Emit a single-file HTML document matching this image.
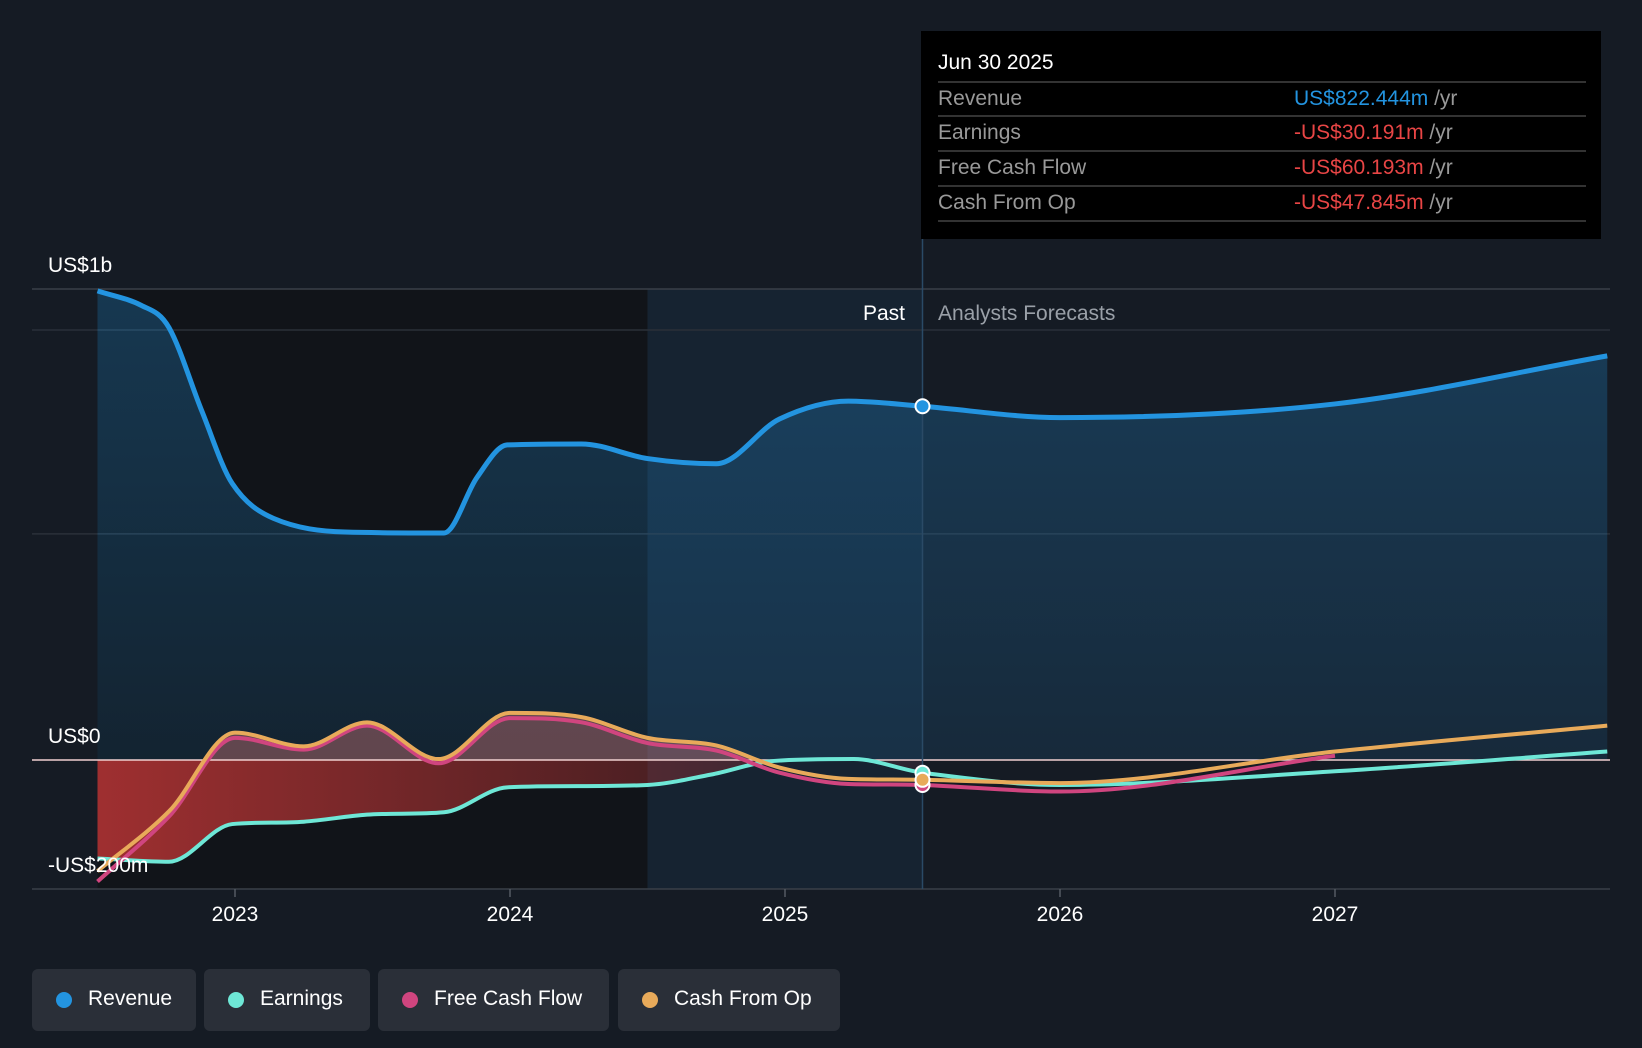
<!DOCTYPE html>
<html><head><meta charset="utf-8"><style>
body{margin:0;background:#151b24;font-family:"Liberation Sans",sans-serif;}
#wrap{position:relative;width:1642px;height:1048px;overflow:hidden;background:#151b24}
svg{position:absolute;left:0;top:0}
.tt{position:absolute;left:921px;top:31px;width:680px;height:208px;background:#000;}
.tt .h{position:absolute;left:17px;top:20px;color:#fff;font-size:21px}
.row{position:absolute;left:17px;width:648px;height:34px;border-top:2px solid #333;font-size:21px;color:#999}
.row span.v{position:absolute;left:356px;top:4px}
.row span.l{position:absolute;left:0;top:4px}
.leg{position:absolute;top:969px;height:62px;background:#2a2f38;border-radius:6px;color:#fff;font-size:21px;}
.leg i{position:absolute;left:24px;top:23px;width:16px;height:16px;border-radius:50%}
.leg b{font-weight:normal;position:absolute;left:56px;top:18px}
</style></head><body>
<div id="wrap">
<svg id="chart" width="1642" height="1048"></svg>
<div class="tt">
 <div class="h">Jun 30 2025</div>
 <div class="row" style="top:50px"><span class="l">Revenue</span><span class="v"><span style="color:#2394e0">US$822.444m</span> /yr</span></div>
 <div class="row" style="top:84px"><span class="l">Earnings</span><span class="v"><span style="color:#e84545">-US$30.191m</span> /yr</span></div>
 <div class="row" style="top:119px"><span class="l">Free Cash Flow</span><span class="v"><span style="color:#e84545">-US$60.193m</span> /yr</span></div>
 <div class="row" style="top:154px"><span class="l">Cash From Op</span><span class="v"><span style="color:#e84545">-US$47.845m</span> /yr</span></div>
 <div class="row" style="top:189px;height:0"></div>
</div>
<div class="leg" style="left:32px;width:164px"><i style="background:#2394e0"></i><b>Revenue</b></div>
<div class="leg" style="left:204px;width:166px"><i style="background:#6ee7d6"></i><b>Earnings</b></div>
<div class="leg" style="left:378px;width:231px"><i style="background:#d0457f"></i><b>Free Cash Flow</b></div>
<div class="leg" style="left:618px;width:222px"><i style="background:#e8aa5a"></i><b>Cash From Op</b></div>
</div>
<script>
const revT=[2022.5,2022.66,2022.76,2022.88,2022.99,2023.14,2023.4,2023.76,2023.88,2023.99,2024.26,2024.5,2024.75,2024.98,2025.23,2025.5,2026,2027,2027.99];
const revV=[0.996,0.965,0.918,0.74,0.587,0.513,0.484,0.482,0.6,0.669,0.671,0.64,0.629,0.724,0.762,0.751,0.727,0.756,0.858];
const earnT=[2022.5,2022.76,2022.99,2023.25,2023.48,2023.76,2023.99,2024.5,2024.73,2024.96,2025.25,2025.5,2026,2027,2027.99];
const earnV=[-0.209,-0.216,-0.136,-0.131,-0.116,-0.111,-0.058,-0.053,-0.031,-0.002,0.002,-0.027,-0.053,-0.024,0.018];
const fcfT=[2022.5,2022.76,2023,2023.25,2023.48,2023.74,2024,2024.26,2024.5,2024.75,2024.98,2025.23,2025.5,2026,2027];
const fcfV=[-0.258,-0.12,0.047,0.022,0.073,-0.007,0.089,0.08,0.036,0.02,-0.027,-0.051,-0.053,-0.067,0.009];
const cfoT=[2022.5,2022.76,2023,2023.25,2023.48,2023.74,2024,2024.26,2024.5,2024.75,2024.98,2025.23,2025.5,2026,2027,2027.99];
const cfoV=[-0.236,-0.109,0.058,0.029,0.08,0.002,0.1,0.091,0.047,0.031,-0.016,-0.04,-0.042,-0.049,0.018,0.073];
const xTicks=[2023,2024,2025,2026,2027];
const NOW=2025.5;
const X=t=>235+(t-2023)*275;
const Y=v=>760-v*471;
const svg=document.getElementById('chart');
const NS='http://www.w3.org/2000/svg';
function mk(tag,attrs,parent){const e=document.createElementNS(NS,tag);for(const k in attrs)e.setAttribute(k,attrs[k]);(parent||svg).appendChild(e);return e;}
function mono(xs,ys){const n=xs.length;const d=[],m=[];for(let i=0;i<n-1;i++)d.push((ys[i+1]-ys[i])/(xs[i+1]-xs[i]));
 m[0]=d[0];m[n-1]=d[n-2];
 for(let i=1;i<n-1;i++){if(d[i-1]*d[i]<=0){m[i]=0;continue;}let s=(ys[i+1]-ys[i-1])/(xs[i+1]-xs[i-1]);const lim=3*Math.min(Math.abs(d[i-1]),Math.abs(d[i]));if(Math.abs(s)>lim)s=Math.sign(s)*lim;m[i]=s;}
 let p='M'+xs[0]+','+ys[0];for(let i=0;i<n-1;i++){const h=(xs[i+1]-xs[i])/3;p+=' C'+(xs[i]+h)+','+(ys[i]+m[i]*h)+' '+(xs[i+1]-h)+','+(ys[i+1]-m[i+1]*h)+' '+xs[i+1]+','+ys[i+1];}return p;}
function path(T,V){return mono(T.map(X),V.map(Y));}
const defs=mk('defs',{});
defs.innerHTML='<linearGradient id="rg" x1="0" y1="0" x2="0" y2="1"><stop offset="0" stop-color="#2394e0" stop-opacity="0.28"/><stop offset="1" stop-color="#2394e0" stop-opacity="0.12"/></linearGradient>'+
'<linearGradient id="neg" gradientUnits="userSpaceOnUse" x1="96" y1="0" x2="921" y2="0"><stop offset="0" stop-color="#b83434" stop-opacity="0.85"/><stop offset="1" stop-color="#b83434" stop-opacity="0.12"/></linearGradient>'+
'<clipPath id="above"><rect x="0" y="0" width="'+X(NOW)+'" height="760"/></clipPath><clipPath id="below"><rect x="0" y="760" width="'+X(NOW)+'" height="300"/></clipPath>';
let e;
e=mk('rect',{x:X(2022.5),y:289,width:X(2024.5)-X(2022.5),height:600,fill:'#111419'});
e=mk('rect',{x:X(2024.5),y:289,width:X(NOW)-X(2024.5),height:600,fill:'#172a3a',opacity:0.6});
[1,0.913,0.48].forEach((v,i)=>{e=mk('line',{x1:32,x2:1610,y1:Y(v),y2:Y(v),stroke:i==0?'#3a4048':'#2a3039','stroke-width':1.5});});
e=mk('line',{x1:32,x2:1610,y1:889,y2:889,stroke:'#3a4048','stroke-width':1.5});
const rp=path(revT,revV);
e=mk('path',{d:rp+' L'+X(revT[revT.length-1])+','+Y(0)+' L'+X(revT[0])+','+Y(0)+' Z',fill:'url(#rg)'});
const cp=path(cfoT,cfoV);
const ca=cp+' L'+X(cfoT[cfoT.length-1])+','+Y(0)+' L'+X(cfoT[0])+','+Y(0)+' Z';
e=mk('path',{d:ca,fill:'#c07070','fill-opacity':0.45,'clip-path':'url(#above)'});
const ep=path(earnT,earnV);
e=mk('path',{d:ep+' L'+X(earnT[earnT.length-1])+','+Y(0)+' L'+X(earnT[0])+','+Y(0)+' Z',fill:'url(#neg)','clip-path':'url(#below)'});
e=mk('line',{x1:32,x2:1610,y1:Y(0),y2:Y(0),stroke:'#f0d0d0','stroke-width':1.5});
e=mk('line',{x1:X(NOW),x2:X(NOW),y1:239,y2:889,stroke:'#2a4a66','stroke-width':1.5});
e=mk('path',{d:ep,fill:'none',stroke:'#6ee7d6','stroke-width':4});
e=mk('path',{d:path(fcfT,fcfV),fill:'none',stroke:'#d0457f','stroke-width':4});
e=mk('path',{d:cp,fill:'none',stroke:'#e8aa5a','stroke-width':4});
e=mk('path',{d:rp,fill:'none',stroke:'#2394e0','stroke-width':5});
function val(T,V,t){return V[T.indexOf(t)];}
[[earnT,earnV,'#6ee7d6','earnings-marker'],[fcfT,fcfV,'#d0457f','fcf-marker'],[cfoT,cfoV,'#e8aa5a','cfo-marker'],[revT,revV,'#2394e0','revenue-marker']].forEach(s=>{
 e=mk('circle',{cx:X(NOW),cy:Y(val(s[0],s[1],NOW)),r:7,fill:s[2],stroke:'#fff','stroke-width':2});
 
 });
function txt(x,y,s,attrs,name){const t=mk('text',Object.assign({x:x,y:y,fill:'#fff','font-size':21,'font-family':'Liberation Sans, sans-serif'},attrs||{}));t.textContent=s;return t;}
txt(48,272,'US$1b',{},'y-label-1b');
txt(48,743,'US$0',{},'y-label-0');
txt(48,872,'-US$200m',{},'y-label-neg200m');
txt(905,320,'Past',{'text-anchor':'end'},'past-label');
txt(938,320,'Analysts Forecasts',{fill:'#9aa0a8'},'forecast-label');
xTicks.forEach(t=>{
 e=mk('line',{x1:X(t),x2:X(t),y1:889,y2:897,stroke:'#555b63','stroke-width':1.5});
 
 
 txt(X(t),921,String(t),{'text-anchor':'middle'},'x-tick-label');});
</script>
</body></html>
